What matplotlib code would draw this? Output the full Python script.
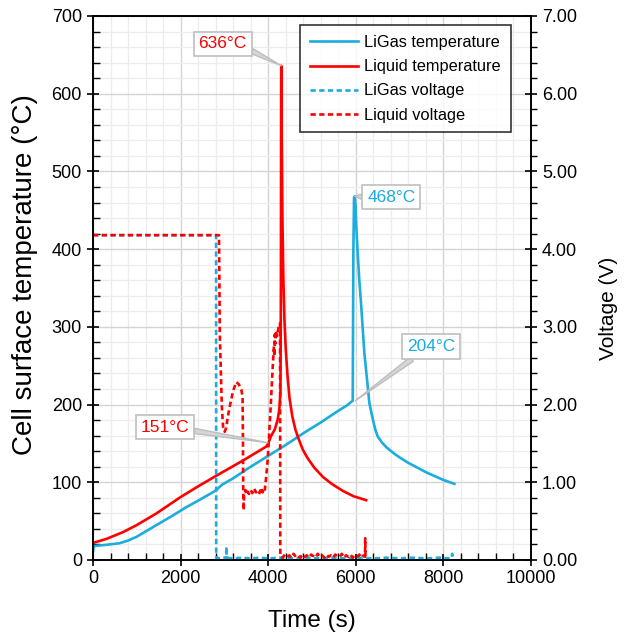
import matplotlib
matplotlib.use("Agg")
import matplotlib.pyplot as plt
from matplotlib.ticker import MultipleLocator, FormatStrFormatter

plt.rcParams['font.family'] = ['Liberation Sans', 'DejaVu Sans']

# ---------------- data ----------------
ligas_temp_t = [0, 20, 300, 600, 800, 1000, 1450, 1800, 2100, 2437, 2700, 2817, 2870,
                2950, 3196, 3600, 4000, 4400, 4800, 5200, 5600, 5800, 5930, 5945, 5960,
                5975, 5995, 6010, 6043, 6080, 6120, 6160, 6196, 6257, 6310, 6400, 6450,
                6500, 6600, 6700, 6850, 7000, 7200, 7400, 7600, 7800, 8000, 8250]
ligas_temp = [11, 18, 19.5, 21.5, 25, 30, 45, 56.5, 67, 77.5, 86, 90, 93,
              97, 105, 120, 134, 148, 163, 177, 192, 199, 205, 400, 466,
              468, 455, 430, 395, 360, 330, 296, 266, 232, 202, 178, 167,
              159, 151, 145, 138, 132, 125, 119, 113, 108, 103, 98]

liquid_temp_t = [0, 300, 690, 1000, 1450, 2000, 2437, 2817, 3424, 3957, 4000, 4061,
                 4150, 4214, 4252, 4280, 4290, 4295, 4298, 4310, 4325, 4345, 4370,
                 4400, 4440, 4487, 4550, 4620, 4700, 4790, 4900, 5050, 5246, 5450,
                 5702, 5950, 6235]
liquid_temp = [22, 27, 36, 45, 60, 81, 96, 108.5, 128, 146, 150, 159,
               168, 180, 193, 215, 350, 600, 636, 540, 440, 365, 310,
               272, 238, 208, 185, 168, 155, 142, 131, 119, 107, 98,
               89, 82, 77]

ligas_volt_t = [0, 2810, 2813, 2900, 3000, 3040, 3045, 3050, 3200, 3400, 3600, 3800,
                4000, 4300, 4600, 4900, 5200, 5500, 5800, 6100, 6400, 6700, 7000,
                7300, 7600, 7900, 8150, 8195, 8200, 8205, 8250]
ligas_volt = [4.18, 4.18, 0.03, 0.02, 0.03, 0.02, 0.17, 0.03, 0.02, 0.03, 0.02, 0.03,
              0.02, 0.03, 0.02, 0.03, 0.02, 0.03, 0.02, 0.03, 0.02, 0.03, 0.02,
              0.03, 0.02, 0.03, 0.02, 0.03, 0.08, 0.03, 0.03]

liquid_volt_t = [0, 2877, 2895, 2940, 2968, 3007, 3040, 3080, 3120, 3200, 3273, 3330,
                 3387, 3415, 3424, 3430, 3440, 3450, 3480, 3500, 3530, 3560, 3600,
                 3640, 3680, 3720, 3760, 3800, 3840, 3870, 3900, 3918, 3950, 3990,
                 4050, 4100, 4130, 4140, 4150, 4160, 4175, 4200, 4240, 4270, 4276,
                 4330, 4380, 4430, 4480, 4530, 4580, 4630, 4680, 4730, 4780, 4830,
                 4880, 4930, 4980, 5030, 5080, 5130, 5180, 5230, 5280, 5330, 5380,
                 5430, 5480, 5530, 5580, 5630, 5680, 5730, 5780, 5830, 5880, 5930,
                 5980, 6030, 6080, 6130, 6180, 6210, 6215, 6222, 6235]
liquid_volt = [4.18, 4.18, 2.9, 2.0, 1.72, 1.65, 1.7, 1.85, 1.97, 2.18, 2.29, 2.26,
               2.19, 2.1, 1.5, 0.86, 0.64, 0.85, 0.9, 0.84, 0.88, 0.85, 0.9,
               0.86, 0.92, 0.87, 0.9, 0.86, 0.93, 0.87, 0.9, 0.88, 1.05, 1.3,
               1.9, 2.45, 2.75, 2.62, 2.9, 2.78, 2.95, 2.88, 3.0, 3.05, 0.05,
               0.03, 0.07, 0.04, 0.06, 0.03, 0.08, 0.04, 0.06, 0.03, 0.07, 0.04,
               0.06, 0.03, 0.07, 0.05, 0.03, 0.08, 0.04, 0.06, 0.03, 0.07, 0.04,
               0.06, 0.03, 0.07, 0.05, 0.04, 0.08, 0.03, 0.06, 0.04, 0.07, 0.03,
               0.06, 0.04, 0.07, 0.03, 0.06, 0.04, 0.28, 0.03, 0.03]

series_labels = ['LiGas temperature', 'Liquid temperature', 'LiGas voltage', 'Liquid voltage']
callouts = [('636°C', 4298, 636), ('468°C', 5975, 468), ('204°C', 5990, 205), ('151°C', 3990, 151)]

BLUE = '#1cacde'
RED = '#ff0000'

# ---------------- figure ----------------
fig = plt.figure(figsize=(6.24, 6.34), dpi=100)
ax = fig.add_axes([93/624, 1-560/634, 438/624, 544/634])
ax2 = ax.twinx()

ax.set_xlim(0, 10000)
ax.set_ylim(0, 700)
ax2.set_ylim(0, 7)

ax.xaxis.set_major_locator(MultipleLocator(2000))
ax.xaxis.set_minor_locator(MultipleLocator(400))
ax.yaxis.set_major_locator(MultipleLocator(100))
ax.yaxis.set_minor_locator(MultipleLocator(20))
ax2.yaxis.set_major_locator(MultipleLocator(1))
ax2.yaxis.set_minor_locator(MultipleLocator(0.2))
ax2.yaxis.set_major_formatter(FormatStrFormatter('%.2f'))

ax.grid(which='major', color='#d4d4d4', lw=1.0)
ax.grid(which='minor', color='#ececec', lw=0.9)
ax.set_axisbelow(True)

lw = 1.9
l1, = ax.plot(ligas_temp_t, ligas_temp, color=BLUE, lw=lw, label=series_labels[0])
l2, = ax.plot(liquid_temp_t, liquid_temp, color=RED, lw=lw, label=series_labels[1])
l3, = ax2.plot(ligas_volt_t, ligas_volt, color=BLUE, lw=lw, ls=(0, (2.0, 1.3)), label=series_labels[2])
l4, = ax2.plot(liquid_volt_t, liquid_volt, color=RED, lw=lw, ls=(0, (2.0, 1.3)), label=series_labels[3])

for a in (ax, ax2):
    for s in a.spines.values():
        s.set_color('black')
        s.set_linewidth(1.2)

ax.tick_params(axis='both', which='major', direction='inout', length=9, width=1.2,
               labelsize=13, color='black')
ax.tick_params(axis='both', which='minor', direction='in', length=5, width=1.0)
ax.tick_params(axis='x', which='major', pad=3)
ax2.tick_params(axis='y', which='major', direction='inout', length=9, width=1.2, labelsize=13)
ax2.tick_params(axis='y', which='minor', direction='out', length=4, width=1.0)

ax.set_xlabel('Time (s)', fontsize=17.5, labelpad=16)
ax.set_ylabel('Cell surface temperature (°C)', fontsize=20)
ax.yaxis.set_label_coords(-0.125, 0.525)
ax2.set_ylabel('Voltage (V)', fontsize=15)
ax2.yaxis.set_label_coords(1.155, 0.463)

# callouts
text_pos = {'636°C': (2961, 664), '468°C': (6811, 467), '204°C': (7722, 275), '151°C': (1640, 171)}
relpos = {'636°C': (1.0, 0.2), '468°C': (0.0, 0.5), '204°C': (0.25, 0.0), '151°C': (1.0, 0.3)}
colors = {'636°C': RED, '468°C': BLUE, '204°C': BLUE, '151°C': RED}
for txt, px, py in callouts:
    tx, ty = text_pos[txt]
    ax2.annotate(txt, xy=(px, py), xycoords=ax.transData,
                 xytext=(tx, ty), textcoords=ax.transData,
                 ha='center', va='center', fontsize=12.5, color=colors[txt],
                 bbox=dict(boxstyle='square,pad=0.28', fc='white', ec='#bfbfbf', lw=1.2),
                 arrowprops=dict(arrowstyle='wedge,tail_width=0.3,shrink_factor=0.5',
                                 fc='#d6d6d6', ec='#bdbdbd', lw=1.0,
                                 relpos=relpos[txt], shrinkA=0, shrinkB=0),
                 zorder=5)

leg = ax2.legend(handles=[l1, l2, l3, l4], loc='upper right',
                 bbox_to_anchor=(0.954, 0.983), borderaxespad=0,
                 fontsize=11.8, frameon=True, fancybox=False, edgecolor='black',
                 handlelength=2.93, handletextpad=0.38, labelspacing=0.56,
                 borderpad=0.6)
leg.get_frame().set_linewidth(1.2)
leg.set_zorder(10)

fig.savefig('out.png', dpi=100)
